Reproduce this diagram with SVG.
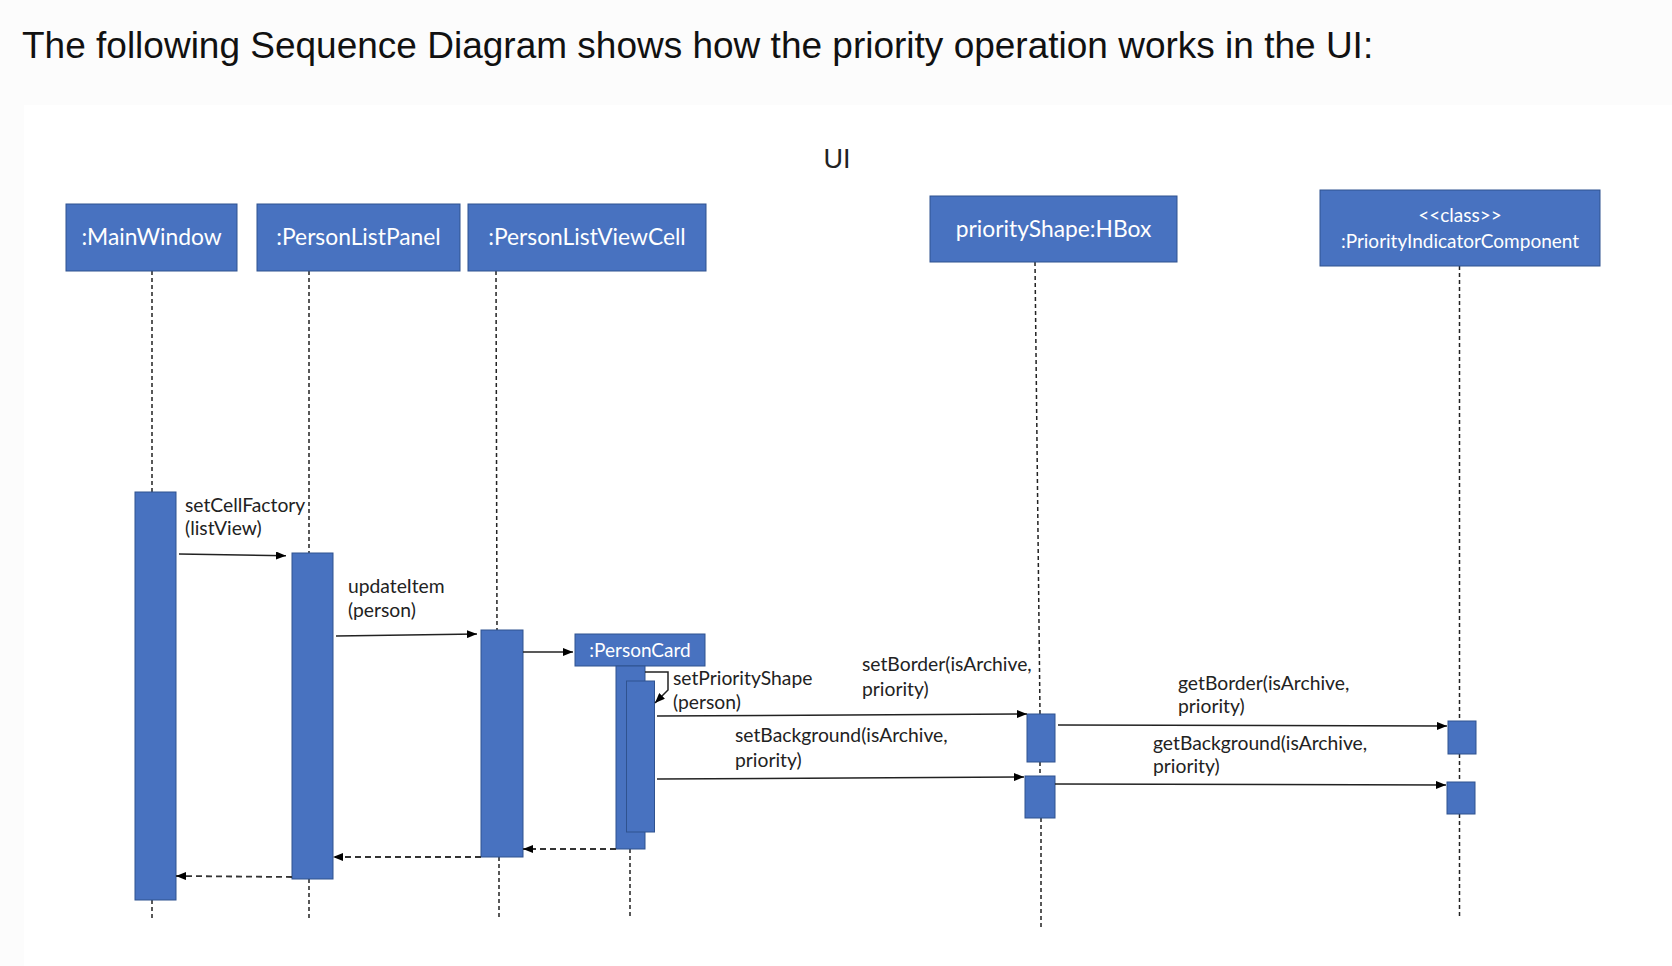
<svg xmlns="http://www.w3.org/2000/svg" width="1672" height="966" viewBox="0 0 1672 966">
<defs>
<style>
.title{font-family:"Liberation Sans",Arial,sans-serif;font-size:37px;fill:#111}
.ui{font-family:"Liberation Sans",Arial,sans-serif;font-size:27px;fill:#222}
.box{fill:#4872c0;stroke:#2f528f;stroke-width:1}
.bar{fill:#4872c0;stroke:#2f528f;stroke-width:1}
.ht{font-family:Lato,"Open Sans",sans-serif;font-size:22.8px;fill:#fff;text-anchor:middle}
.hs{font-family:Lato,"Open Sans",sans-serif;font-size:19px;fill:#fff;text-anchor:middle}
.lbl{font-family:Lato,"Open Sans",sans-serif;font-size:19.3px;fill:#222}
.life{stroke:#222;stroke-width:1.5;stroke-dasharray:4 3;fill:none}
.msg{stroke:#222;stroke-width:1.5;fill:none}
.ret{stroke:#333;stroke-width:1.8;stroke-dasharray:6 4;fill:none}
</style>
<marker id="ah" viewBox="0 0 10 8" refX="10" refY="4" markerWidth="10" markerHeight="8" markerUnits="userSpaceOnUse" orient="auto">
<path d="M0,0 L10,4 L0,8 Z" fill="#000"/>
</marker>
</defs>
<rect x="0" y="0" width="1672" height="966" fill="#fcfcfc"/>
<rect x="24" y="105" width="1648" height="861" fill="#ffffff"/>
<text class="title" x="22" y="58">The following Sequence Diagram shows how the priority operation works in the UI:</text>
<text class="ui" x="837" y="168" text-anchor="middle">UI</text>

<g id="lifelines">
<line class="life" x1="152" y1="271" x2="152" y2="492"/>
<line class="life" x1="152" y1="900" x2="152" y2="921"/>
<line class="life" x1="309" y1="271" x2="309" y2="553"/>
<line class="life" x1="309" y1="879" x2="309" y2="921"/>
<line class="life" x1="496" y1="271" x2="497" y2="630"/>
<line class="life" x1="499" y1="857" x2="499" y2="919"/>
<line class="life" x1="1035" y1="262" x2="1040" y2="714"/>
<line class="life" x1="1040" y1="762" x2="1040" y2="776"/>
<line class="life" x1="1041" y1="818" x2="1041" y2="928"/>
<line class="life" x1="1459.5" y1="266" x2="1459.5" y2="721"/>
<line class="life" x1="1459.5" y1="754" x2="1459.5" y2="782"/>
<line class="life" x1="1459.5" y1="814" x2="1459.5" y2="919"/>
<line class="life" x1="630" y1="849" x2="630" y2="919"/>
</g>

<g id="MainWindow">
<rect class="box" x="66" y="204" width="171" height="67"/>
<text class="ht" x="151.5" y="245">:MainWindow</text>
<rect class="bar" x="135" y="492" width="41" height="408"/>
</g>
<g id="PersonListPanel">
<rect class="box" x="257" y="204" width="203" height="67"/>
<text class="ht" x="358.5" y="245">:PersonListPanel</text>
<rect class="bar" x="292" y="553" width="41" height="326"/>
</g>
<g id="PersonListViewCell">
<rect class="box" x="468" y="204" width="238" height="67"/>
<text class="ht" x="587" y="245">:PersonListViewCell</text>
<rect class="bar" x="481" y="630" width="42" height="227"/>
</g>
<g id="PersonCard">
<rect class="box" x="575" y="634" width="130" height="32"/>
<text class="hs" x="640" y="657">:PersonCard</text>
<rect class="bar" x="616" y="666" width="29" height="183"/>
<rect class="bar" x="626.5" y="681" width="28" height="151"/>
</g>
<g id="priorityShape">
<rect class="box" x="930" y="196" width="247" height="66"/>
<text class="ht" x="1053.5" y="237">priorityShape:HBox</text>
<rect class="bar" x="1027" y="714" width="28" height="48"/>
<rect class="bar" x="1025" y="776" width="30" height="42"/>
</g>
<g id="PriorityIndicatorComponent">
<rect class="box" x="1320" y="190" width="280" height="76"/>
<text class="hs" x="1460" y="222">&lt;&lt;class&gt;&gt;</text>
<text class="hs" x="1460" y="248">:PriorityIndicatorComponent</text>
<rect class="bar" x="1448" y="721" width="28" height="33"/>
<rect class="bar" x="1447" y="782" width="28" height="32"/>
</g>

<g id="connectors">
<line class="msg" x1="179" y1="554" x2="286" y2="555.7" marker-end="url(#ah)"/>
<line class="msg" x1="336" y1="636" x2="477" y2="634" marker-end="url(#ah)"/>
<line class="msg" x1="523" y1="652" x2="573" y2="652" marker-end="url(#ah)"/>
<path class="msg" d="M645,672 H668 V690 L655,703" marker-end="url(#ah)"/>
<line class="msg" x1="657" y1="716" x2="1027" y2="714" marker-end="url(#ah)"/>
<line class="msg" x1="657" y1="779" x2="1024" y2="777" marker-end="url(#ah)"/>
<line class="msg" x1="1058" y1="725" x2="1447" y2="726" marker-end="url(#ah)"/>
<line class="msg" x1="1055" y1="784" x2="1446" y2="785" marker-end="url(#ah)"/>
<line class="ret" x1="616" y1="849" x2="523" y2="849" marker-end="url(#ah)"/>
<line class="ret" x1="481" y1="857" x2="333" y2="857" marker-end="url(#ah)"/>
<line class="ret" x1="292" y1="877" x2="176" y2="876" marker-end="url(#ah)"/>
<text class="lbl" x="185" y="512">setCellFactory</text>
<text class="lbl" x="185" y="535">(listView)</text>
<text class="lbl" x="348" y="593">updateItem</text>
<text class="lbl" x="348" y="617">(person)</text>
<text class="lbl" x="673" y="685">setPriorityShape</text>
<text class="lbl" x="673" y="709">(person)</text>
<text class="lbl" x="862" y="671">setBorder(isArchive,</text>
<text class="lbl" x="862" y="696">priority)</text>
<text class="lbl" x="735" y="742">setBackground(isArchive,</text>
<text class="lbl" x="735" y="767">priority)</text>
<text class="lbl" x="1178" y="690">getBorder(isArchive,</text>
<text class="lbl" x="1178" y="713">priority)</text>
<text class="lbl" x="1153" y="750">getBackground(isArchive,</text>
<text class="lbl" x="1153" y="773">priority)</text>
</g>
</svg>
